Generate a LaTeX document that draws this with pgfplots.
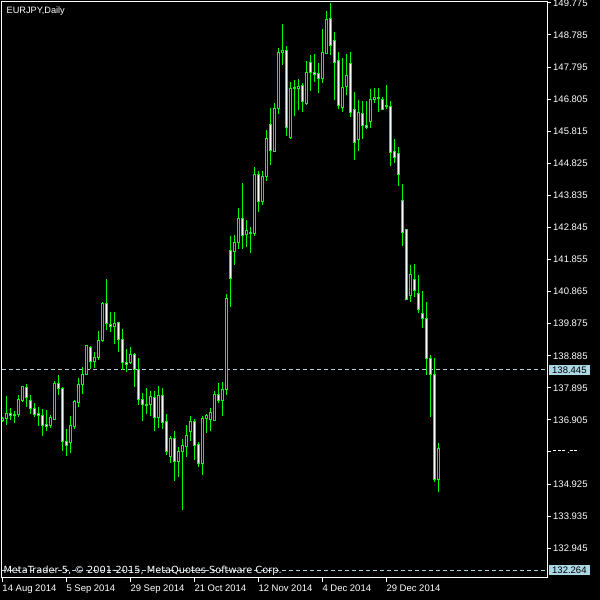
\documentclass[border=0pt]{standalone}
\usepackage{fontspec}
\setmainfont{Liberation Sans}
\newfontfamily\dvs{DejaVu Sans}
\usepackage{pgfplots}
\usepackage{pgfplotstable}
\pgfplotsset{compat=1.18}
\definecolor{mtgreen}{RGB}{0,255,0}
\definecolor{mtline}{RGB}{176,208,222}
\definecolor{mtbox}{RGB}{173,216,230}
\newcommand{\dd}{\rule[2.8pt]{3pt}{1pt}\hspace{1.6pt}}

% EURJPY daily: index, open, high, low, close
\pgfplotstableread{
i o h l c
0 136.88 136.99 136.84 136.96
1 136.95 137.64 136.75 137.11
2 137.11 137.26 136.90 137.04
3 137.05 137.18 136.82 137.08
4 137.08 137.67 137.00 137.52
5 137.49 137.96 137.47 137.93
6 137.91 138.01 137.31 137.59
7 137.49 137.67 137.09 137.25
8 137.26 137.42 137.00 137.08
9 137.09 137.31 136.72 137.04
10 137.05 137.23 136.42 136.73
11 136.75 137.21 136.57 136.70
12 136.73 137.06 136.66 136.97
13 136.93 138.11 136.91 138.04
14 138.04 138.29 137.67 137.86
15 137.88 137.91 135.95 136.23
16 136.25 136.62 135.80 136.12
17 136.20 137.04 135.89 136.72
18 136.70 137.52 136.62 137.46
19 137.44 138.21 137.31 138.00
20 138.00 138.53 137.70 138.31
21 138.31 139.22 138.29 139.19
22 139.15 139.19 138.47 138.70
23 138.70 139.01 138.52 138.84
24 138.83 139.65 138.75 139.37
25 139.34 140.54 139.32 140.51
26 140.51 141.25 139.68 139.89
27 139.86 140.24 139.63 139.78
28 139.78 140.24 139.25 139.89
29 139.91 139.94 139.01 139.39
30 139.39 139.71 138.45 138.67
31 138.69 139.09 138.39 138.62
32 138.68 139.15 138.63 138.91
33 138.91 138.96 137.93 138.45
34 138.45 138.81 137.37 137.54
35 137.54 137.73 136.88 137.37
36 137.37 137.88 137.09 137.34
37 137.37 137.81 137.03 137.62
38 137.60 137.81 136.57 136.98
39 136.98 137.95 136.65 137.66
40 137.67 137.89 136.63 136.82
41 136.84 137.09 135.82 135.92
42 135.77 136.41 135.57 136.34
43 136.34 136.56 135.03 135.62
44 135.62 136.08 135.14 135.92
45 135.92 136.32 134.13 136.10
46 136.08 136.75 135.77 136.41
47 136.54 137.03 136.26 136.85
48 136.87 136.92 135.67 136.11
49 136.13 136.21 135.44 135.57
50 135.57 137.03 135.21 136.95
51 136.94 137.09 136.49 137.03
52 136.92 137.26 136.57 137.14
53 136.90 137.80 136.88 137.69
54 137.69 138.04 137.42 137.50
55 137.50 138.07 137.03 137.85
56 137.85 140.79 137.67 140.66
57 142.12 142.58 140.40 141.28
58 142.10 142.61 141.69 142.39
59 142.37 143.44 142.17 143.13
60 143.13 144.23 142.19 142.61
61 142.63 143.08 142.25 142.74
62 142.66 142.85 142.07 142.68
63 142.66 144.70 142.59 144.49
64 144.49 144.60 143.33 143.64
65 143.64 144.60 143.54 144.43
66 144.41 145.85 144.28 145.60
67 146.01 146.54 144.77 145.21
68 145.20 146.68 145.18 146.52
69 146.52 148.37 146.35 148.25
70 148.24 149.12 147.86 148.32
71 148.32 148.45 145.67 145.92
72 145.61 147.34 145.57 147.14
73 147.12 147.40 146.29 147.16
74 147.12 147.43 146.47 147.21
75 147.24 147.31 146.42 146.73
76 146.66 147.98 146.63 147.63
77 147.94 148.17 147.07 147.62
78 147.62 148.20 147.34 147.58
79 147.60 147.91 147.00 147.43
80 147.43 148.97 147.29 148.25
81 148.22 149.53 148.20 149.25
82 149.30 149.78 148.17 148.45
83 148.63 148.87 146.78 147.93
84 148.01 148.25 146.50 146.62
85 146.54 148.07 146.42 147.17
86 147.21 148.20 146.93 147.52
87 147.91 148.27 146.26 146.39
88 146.49 147.02 144.93 145.47
89 145.56 146.78 145.20 146.39
90 146.37 146.76 145.58 145.98
91 145.98 146.75 145.88 145.92
92 146.11 147.12 145.92 146.80
93 146.80 147.16 146.68 146.87
94 146.87 147.16 146.42 146.83
95 146.80 146.88 146.47 146.49
96 146.62 147.24 146.49 146.57
97 146.57 146.75 144.75 145.17
98 145.20 145.58 144.82 145.01
99 145.13 145.32 144.13 144.49
100 143.69 144.19 142.28 142.69
101 142.77 142.80 140.60 140.63
102 140.74 141.69 140.55 141.38
103 141.24 141.72 140.71 140.91
104 140.81 141.38 140.20 140.32
105 140.20 140.88 139.75 140.04
106 140.04 140.53 138.29 138.81
107 138.81 138.91 137.00 138.31
108 138.31 138.81 135.00 135.07
109 135.07 136.20 134.69 136.03
}\eurjpy

\pgfplotsset{mtframe/.style={
    scale only axis, width=545pt, height=576pt,
    xmin=-0.075, xmax=136.175, ymin=132.025, ymax=149.803,
    at={(2pt,22pt)}, anchor=south west}}

\begin{document}
\begin{tikzpicture}
\useasboundingbox (0,0) rectangle (600pt,600pt);
\fill[black] (0,0) rectangle (600pt,600pt);

% frame, ticks, price lines and wicks
\begin{axis}[mtframe,
    axis line style={white, line width=1pt},
    tick style={white, line width=1pt},
    tick align=outside, major tick length=4pt,
    xtick pos=left, ytick pos=right, yticklabel pos=right,
    xtick={0,16,32,48,64,80,96},
    xticklabels={14 Aug 2014, 5 Sep 2014, 29 Sep 2014, 21 Oct 2014, 12 Nov 2014, 4 Dec 2014, 29 Dec 2014},
    ytick={149.775,148.785,147.795,146.805,145.815,144.825,143.835,142.845,141.855,140.865,139.875,138.885,137.895,136.905,135.915,134.925,133.935,132.945},
    yticklabels={149.775,148.785,147.795,146.805,145.815,144.825,143.835,142.845,141.855,140.865,139.875,138.885,137.895,136.905,{\dd\dd\dd.\dd\dd},134.925,133.935,132.945},
    ticklabel style={text=white, font=\fontsize{9.5}{11}\selectfont},
    xticklabel style={anchor=north west, inner sep=0pt, yshift=-3pt},
    yticklabel style={anchor=west, inner sep=0pt, xshift=2pt},
    extra y ticks={138.445,132.264},
    extra y tick labels={138.445,132.264},
    extra y tick style={grid=major,
        major grid style={mtline, line width=1pt, dash pattern=on 4pt off 3pt},
        major tick length=0pt,
        yticklabel style={fill=mtbox, text=black, inner xsep=3pt, inner ysep=1.5pt}},
]
\addplot[draw=none, mark=none,
    error bars/.cd, y dir=both, y explicit, error mark=none,
    error bar style={draw=mtgreen, line width=1pt, solid}]
    table[x=i, y=o, y error plus expr=\thisrow{h}-\thisrow{o},
          y error minus expr=\thisrow{o}-\thisrow{l}] {\eurjpy};
\end{axis}

% candle bodies: white = down day, black = up day
\begin{axis}[mtframe, hide axis, ybar stacked, bar width=2pt]
\addplot[draw=none, fill=none] table[x=i, y expr={min(\thisrow{o},\thisrow{c})}] {\eurjpy};
\addplot[draw=mtgreen, fill=white, line width=1pt] table[x=i, y expr={max(\thisrow{o}-\thisrow{c},0)}] {\eurjpy};
\addplot[draw=mtgreen, fill=black, line width=1pt] table[x=i, y expr={max(\thisrow{c}-\thisrow{o},0)}] {\eurjpy};
\end{axis}

\node[anchor=base west, inner sep=0pt, text=white, font=\fontsize{9.2}{11}\selectfont]
    at (6.5pt,586.7pt) {EURJPY,Daily};
\node[anchor=base west, inner sep=0pt, text=white, font=\dvs\fontsize{9.8}{11}\selectfont]
    at (3.3pt,27pt) {MetaTrader 5, © 2001-2015, MetaQuotes Software Corp.};
\end{tikzpicture}
\end{document}
